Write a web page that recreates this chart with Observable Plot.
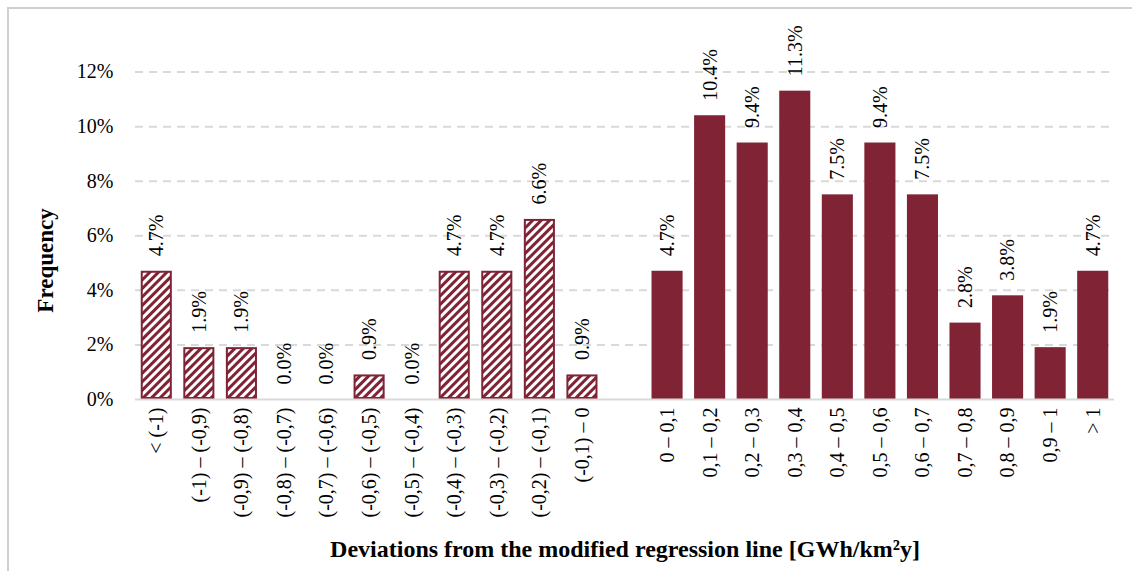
<!DOCTYPE html>
<html>
<head>
<meta charset="utf-8">
<script src="https://cdn.jsdelivr.net/npm/d3@7"></script>
<script src="https://cdn.jsdelivr.net/npm/@observablehq/plot@0.6"></script>
<style>
  html, body { margin: 0; padding: 0; background: #fff; }
  #wrap { position: relative; width: 1132px; height: 571px; overflow: hidden; }
  #frame { position: absolute; left: 7px; top: 7px; width: 1130px; height: 600px;
           border-left: 2px solid #d0d0d0; border-top: 2px solid #d0d0d0; box-sizing: border-box; }
  #wrap svg { position: absolute; left: 0; top: 0; }
</style>
</head>
<body>
<div id="wrap"><div id="frame"></div></div>
<script>
const negCategories = ["< (-1)", "(-1) \u2013 (-0,9)", "(-0,9) \u2013 (-0,8)", "(-0,8) \u2013 (-0,7)", "(-0,7) \u2013 (-0,6)",
  "(-0,6) \u2013 (-0,5)", "(-0,5) \u2013 (-0,4)", "(-0,4) \u2013 (-0,3)", "(-0,3) \u2013 (-0,2)", "(-0,2) \u2013 (-0,1)", "(-0,1) \u2013 0"];
const negValues = [4.7, 1.9, 1.9, 0.0, 0.0, 0.9, 0.0, 4.7, 4.7, 6.6, 0.9];
const posCategories = ["0 \u2013 0,1", "0,1 \u2013 0,2", "0,2 \u2013 0,3", "0,3 \u2013 0,4", "0,4 \u2013 0,5",
  "0,5 \u2013 0,6", "0,6 \u2013 0,7", "0,7 \u2013 0,8", "0,8 \u2013 0,9", "0,9 \u2013 1", "> 1"];
const posValues = [4.7, 10.4, 9.4, 11.3, 7.5, 9.4, 7.5, 2.8, 3.8, 1.9, 4.7];
const gapCategory = " ";
const yTicks = [0, 2, 4, 6, 8, 10, 12];

const domain = [...negCategories, gapCategory, ...posCategories];
const neg = negCategories.map((c, i) => ({cat: c, v: negValues[i]}));
const pos = posCategories.map((c, i) => ({cat: c, v: posValues[i]}));
const all = [...neg, ...pos];

const color = "#7f2335";
const font = "'Liberation Serif', 'DejaVu Serif', serif";

const chart = Plot.plot({
  width: 1132,
  height: 571,
  marginLeft: 135,
  marginRight: 18,
  marginTop: 17,
  marginBottom: 172,
  style: {fontFamily: font, fontSize: "20px", color: "#000", background: "transparent"},
  x: {domain, paddingInner: 0.27, paddingOuter: 0.135, round: false, label: null, tickSize: 0, tickPadding: 8, tickRotate: -90},
  y: {domain: [0, 14], ticks: yTicks, tickFormat: d => d + "%", label: null, tickSize: 0, tickPadding: 22},
  marks: [
    () => {
      const svg = d3.create("svg:defs");
      const p = svg.append("pattern").attr("id", "hatch").attr("patternUnits", "userSpaceOnUse")
        .attr("width", 6).attr("height", 6).attr("patternTransform", "rotate(45)");
      p.append("rect").attr("width", 6).attr("height", 6).attr("fill", color);
      p.append("rect").attr("x", 0).attr("width", 3).attr("height", 6).attr("fill", "#fff");
      return svg.node();
    },
    Plot.ruleY(yTicks.filter(d => d > 0), {stroke: "#d9d9d9", strokeWidth: 2, strokeDasharray: "8,6"}),
    Plot.barY(neg, {x: "cat", y: "v", fill: "url(#hatch)", stroke: color, strokeWidth: 2, inset: 1}),
    Plot.barY(pos, {x: "cat", y: "v", fill: color}),
    Plot.ruleY([0], {stroke: "#d9d9d9", strokeWidth: 2}),
    Plot.text(all, {x: "cat", y: "v", text: d => d.v.toFixed(1) + "%", rotate: -90, textAnchor: "start",
      lineAnchor: "middle", dy: -15, fontSize: 20, fill: "#000"}),
    Plot.text(["Deviations from the modified regression line [GWh/km\u00b2y]"], {
      frameAnchor: "bottom", dy: 157, text: d => d, fontWeight: "bold", fontSize: 24, lineAnchor: "bottom", fill: "#000"}),
    Plot.text(["Frequency"], {
      frameAnchor: "left", dx: -90, dy: 52, text: d => d, rotate: -90, textAnchor: "middle", fontWeight: "bold", fontSize: 23, fill: "#000", lineAnchor: "middle"})
  ]
});
document.getElementById("wrap").appendChild(chart);
</script>
</body>
</html>
